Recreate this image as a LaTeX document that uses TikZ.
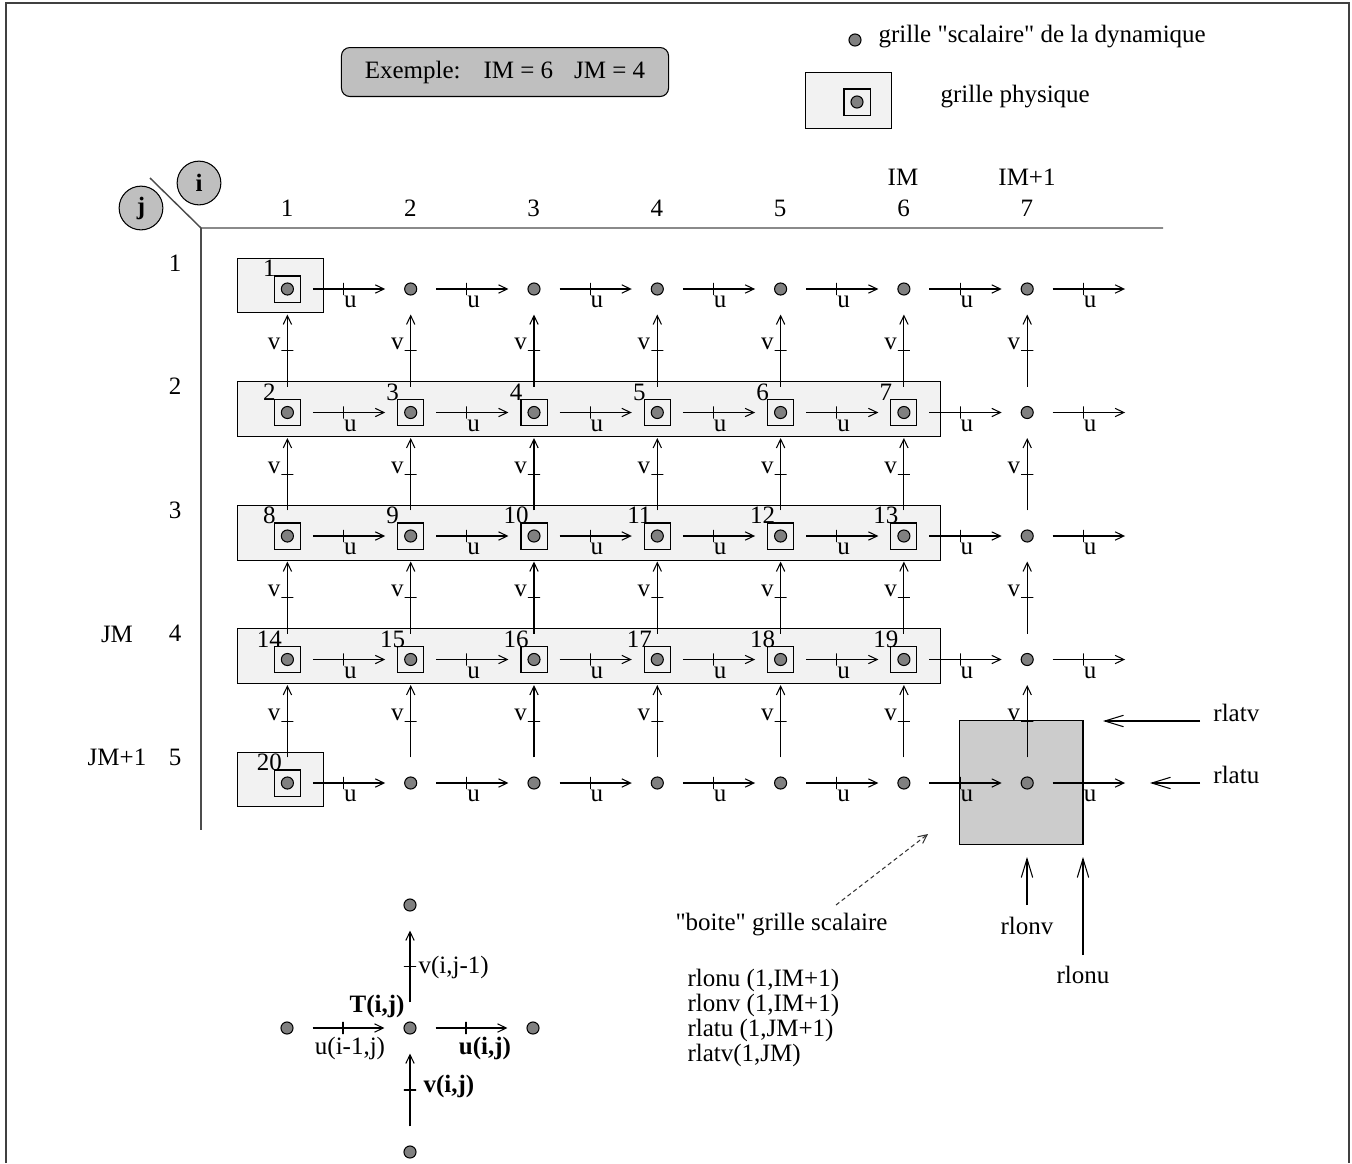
\documentclass[tikz,border=0pt]{standalone}
\usepackage{fontspec}
\setmainfont{Liberation Serif}[Ligatures=TeXOff]
\usetikzlibrary{arrows.meta}
\definecolor{bandgray}{gray}{0.95}
\definecolor{boxgray}{gray}{0.8}
\definecolor{dotgray}{gray}{0.5}
\definecolor{idxgray}{gray}{0.75}
\begin{document}
\begin{tikzpicture}[x=0.48pt, y=-0.48pt, inner sep=0pt, line width=0.5pt,
        font=\fontsize{12}{14}\selectfont,
        >={Straight Barb[length=4.2pt, width=4pt]},
        dot/.style={circle, draw, fill=dotgray, minimum size=5.8pt},
        phys/.style={rectangle, draw, minimum size=12.5pt},
        band/.style={draw, fill=bandgray, line width=0.45pt},
        uarr/.style={->, shorten >=9.1pt, shorten <=9.1pt},
        utick/.style={draw, minimum width=0pt, minimum height=5.8pt},
        vtick/.style={draw, minimum width=5.8pt, minimum height=0pt},
        num/.style={anchor=base},
        idx/.style={circle, draw, fill=idxgray, minimum size=21pt, font=\fontsize{12}{14}\selectfont\bfseries},
        axis/.style={draw=black!70, line width=0.7pt},
        bigarr/.style={-{Straight Barb[length=9pt, width=5.5pt]}}]
    \useasboundingbox (0,0) rectangle (1352,1163);
    \draw[line width=0.8pt, black!75] (6,1163) -- (6,3) -- (1349,3) -- (1349,1163);

    \node[draw, fill=idxgray, rounded corners=4pt, minimum width=157pt, minimum height=23.5pt] (ex) at (505,72) {Exemple:\hspace{11pt}IM = 6\hspace{10pt}JM = 4};
    \node[dot] (ld) at (855,40) {};
    \node[anchor=west] (lt) at (878,37) {grille "scalaire" de la dynamique};
    \draw[band] (805,72) rectangle (891,128);
    \node[phys] (lq) at (857,102) {};
    \node[dot] (lp) at (857,102) {};
    \node[anchor=west] (lg) at (940,97) {grille physique};

    \draw[axis] (150,178) -- (201,228) -- (1163,228);
    \draw[axis] (201,228) -- (201,830);
    \node[idx] (ci) at (199,183) {i};
    \node[idx] (cj) at (141,208) {j};
    \foreach \i in {1,...,7}
        \node (c\i) at ({287+123.3*(\i-1)}, 208) {\i};
    \node (im) at (903,177) {IM};
    \node (imp) at (1027,177) {IM+1};
    \foreach \j in {1,...,5}
        \node (r\j) at (175, {263+123.5*(\j-1)}) {\j};
    \node (jm) at (117,634) {JM};
    \node (jmp) at (117,757) {JM+1};

    \draw[band] (237,258) rectangle (323,312);
    \foreach \y in {381,505,628}
        \draw[band] (237,\y) rectangle (940,\y+55);
    \draw[band] (237,752) rectangle (323,806);
    \node[draw, fill=boxgray, minimum size=59.5pt] (boite) at (1021,782.5) {};

    \foreach \i in {1,...,7}
        \foreach \j in {1,...,5}
            \node[dot] (p\i\j) at ({287.4+123.3*(\i-1)}, {289+123.5*(\j-1)}) {};
    \foreach \j in {1,...,5}
        \coordinate (p8\j) at (1144, {289+123.5*(\j-1)});

    \foreach \i/\j/\k in {1/1/1, 1/5/20} {
        \node[phys] (q\k) at (p\i\j) {};
        \node[num] (n\k) at ([shift={(-18,-12.5)}]p\i\j) {\k};
    }
    \foreach \j in {2,3,4}
        \foreach \i in {1,...,6} {
            \pgfmathtruncatemacro\k{6*(\j-2)+\i+1}
            \node[phys] (q\k) at (p\i\j) {};
            \node[num] (n\k) at ([shift={(-18,-12.5)}]p\i\j) {\k};
        }

    \foreach \j in {1,...,5}
        \foreach \i [count=\n from 2] in {1,...,7}
            \draw[uarr] (p\i\j) -- (p\n\j) node[utick, pos=0.45, label={[anchor=north west]south:u}] (tu\i\j) {};
    \foreach \i in {1,...,7}
        \foreach \j [count=\k from 2] in {1,...,4}
            \draw[uarr] (p\i\k) -- (p\i\j) node[vtick, midway, label={[anchor=south east]west:v}] (tv\i\k) {};

    \coordinate (latv) at (1103,721);
    \coordinate (latu) at (1150,783);
    \coordinate (lonv) at (1027,857);
    \coordinate (lonu) at (1083,857);
    \node[anchor=base west, inner xsep=6.2pt] (rtv) at (1200,721) {rlatv};
    \node[anchor=base west, inner xsep=6.2pt] (rtu) at (1200,783) {rlatu};
    \node[anchor=north, inner ysep=5.5pt] (rnv) at (1027,905) {rlonv};
    \node[anchor=north, inner ysep=5pt] (rnu) at (1083,955) {rlonu};
    \draw[bigarr] (rtv.base west) -- (latv);
    \draw[bigarr] (rtu.base west) -- (latu);
    \draw[bigarr] (rnv.north) -- (lonv);
    \draw[bigarr] (rnu.north) -- (lonu);

    \node[anchor=base west] (bt) at (675,930) {"boite" grille scalaire};
    \coordinate (bs) at (836,905);
    \coordinate (be) at (928,834);
    \draw[->, dash pattern=on 2pt off 1.5pt, black!80] (bs) -- (be);
    \foreach \t [count=\n] in {{rlonu (1,IM+1)}, {rlonv (1,IM+1)}, {rlatu (1,JM+1)}, {rlatv(1,JM)}}
        \node[anchor=base west] (list\n) at (687, {961+25*\n}) {\t};

    \node[dot] (tc) at (410,1028) {};
    \node[dot] (tn) at (410,905) {};
    \node[dot] (ts) at (410,1152) {};
    \node[dot] (tw) at (287,1028) {};
    \node[dot] (te) at (533,1028) {};
    \draw[uarr] (tw) -- (tc) node[utick, pos=0.45] (su1) {};
    \draw[uarr] (tc) -- (te) node[utick, pos=0.45] (su2) {};
    \draw[uarr] (tc) -- (tn) node[vtick, midway] (sv1) {};
    \draw[uarr] (ts) -- (tc) node[vtick, midway] (sv2) {};
    \node[anchor=base] (tl) at (377,1012) {\textbf{T(i,j)}};
    \node[anchor=north] (ul1) at (350,1037) {u(i-1,j)};
    \node[anchor=north] (ul2) at (485,1037) {\textbf{u(i,j)}};
    \node[anchor=base west] (vl1) at (418,973) {v(i,j-1)};
    \node[anchor=base west] (vl2) at (423,1092) {\textbf{v(i,j)}};
\end{tikzpicture}
\end{document}
